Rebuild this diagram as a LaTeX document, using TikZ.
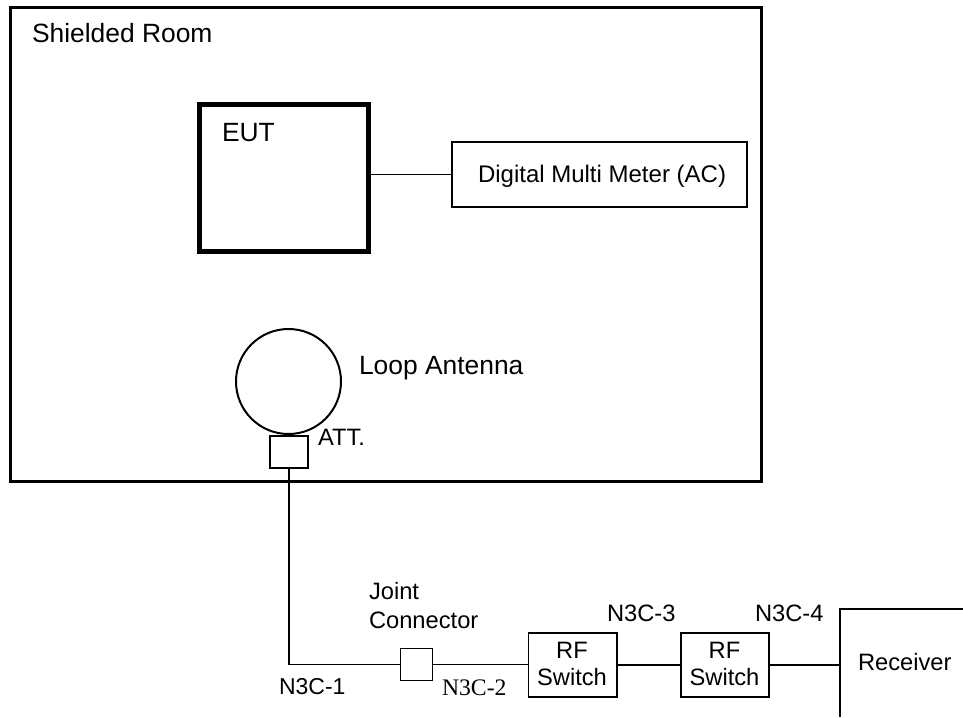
\documentclass[tikz,border=0pt]{standalone}
\usepackage{fontspec}
\setmainfont{Liberation Sans}
\newfontfamily\serifn{Liberation Serif}
\tikzset{
 lbl/.style={inner sep=0pt,outer sep=0pt,font=\fontsize{26.4}{30}\selectfont,anchor=base west,align=left},
 lblsm/.style={inner sep=0pt,outer sep=0pt,font=\fontsize{23.7}{29}\selectfont,anchor=base west,align=left},
 clbl/.style={inner sep=0pt,outer sep=0pt,font=\fontsize{23.7}{27}\selectfont,align=center,anchor=base},
 box/.style={draw,line width=1.9pt,inner sep=0pt,outer sep=0pt,minimum width=#1},
 wire/.style={line width=1.9pt},
}
\begin{document}
\begin{tikzpicture}[x=1pt,y=-1pt]
\useasboundingbox (0,0) rectangle (963,717);
\node[draw,line width=2.5pt,inner sep=0pt,outer sep=0pt,minimum width=751pt,minimum height=474pt] (room) at (386,244.5) {};
\node[lbl] (roomlbl) at (32,43) {Shielded Room};
\node[draw,line width=5pt,inner sep=0pt,outer sep=0pt,minimum width=169pt,minimum height=147pt] (eut) at (284,178) {};
\node[lbl] (eutlbl) at (222,141.5) {EUT};
\node[box=294.5pt,minimum height=64.5pt] (dmm) at (599.5,174.5) {};
\node[lblsm,font=\fontsize{24}{29}\selectfont] (dmmlbl) at (478,182) {Digital Multi Meter (AC)};
\node[draw,circle,line width=2pt,inner sep=0pt,outer sep=0pt,minimum size=105pt] (loop) at (288.5,381.5) {};
\node[lbl] (looplbl) at (359,374.3) {Loop Antenna};
\node[box=38pt,minimum height=32pt] (att) at (289,452) {};
\node[lblsm] (attlbl) at (318,445) {ATT.};
\node[box=32pt,minimum height=32pt] (joint) at (416.5,664.5) {};
\node[lblsm] (jointlbl) at (369,628) {Joint\\Connector};
\node[box=88.5pt,minimum height=64pt] (rfa) at (572.7,664.7) {};
\node[box=88.5pt,minimum height=64pt] (rfb) at (725,664.7) {};
\node[clbl] (rfalbl) at (572,685.3) {RF\\Switch};
\node[clbl] (rfblbl) at (724.5,685.3) {RF\\Switch};
\node[lblsm,font=\fontsize{23}{29}\selectfont] (naa) at (279,694.3) {N3C-1};
\node[lblsm,font=\fontsize{23.7}{29}\serifn] (nab) at (442,695) {N3C-2};
\node[lblsm] (nac) at (607,621) {N3C-3};
\node[lblsm] (nad) at (755,621) {N3C-4};
\node[lblsm] (rxlbl) at (858,670) {Receiver};
\coordinate (cornertop) at (963,608.7);
\coordinate (rxtop) at (840.3,608.7);
\coordinate (rxbot) at (840.3,717);
\coordinate (rxin) at (840.3,664.7);
\coordinate (bend) at (att.south |- joint.west);
\draw[wire] (cornertop) -- (rxtop) -- (rxbot);
\draw[line width=1.6pt] (eut.east |- dmm.west) -- (dmm.west);
\draw[wire] (att.south) -- (bend) -- (joint.west);
\draw[wire] (joint.east) -- (rfa.west |- joint.east);
\draw[wire] (rfa.east) -- (rfb.west);
\draw[wire] (rfb.east) -- (rxin);
\end{tikzpicture}
\end{document}
